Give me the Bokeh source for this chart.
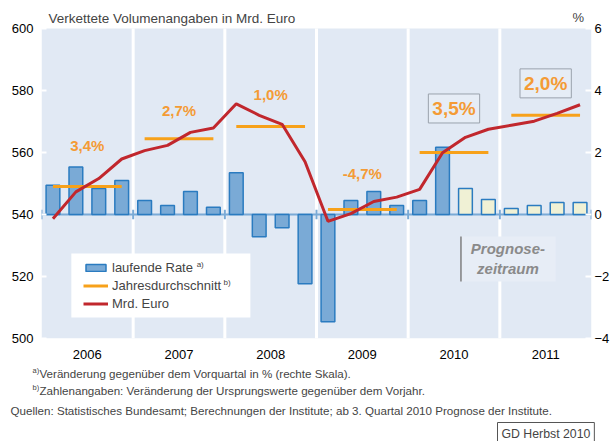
from bokeh.plotting import figure
from bokeh.layouts import column
from bokeh.models import (Range1d, LinearAxis, FixedTicker, BoxAnnotation,
                          Label, Legend, LegendItem, ColumnDataSource)
from bokeh.embed import file_html
from bokeh.resources import INLINE

# ---------------- data ----------------
years = ["2006", "2007", "2008", "2009", "2010", "2011"]
rate = [0.94, 1.53, 0.84, 1.10,
        0.45, 0.29, 0.74, 0.23,
        1.35, -0.72, -0.43, -2.23,
        -3.46, 0.45, 0.74, 0.29,
        0.45, 2.17, 0.84, 0.48,
        0.19, 0.29, 0.39, 0.39]
mrd = [538.6, 547.3, 551.6, 557.9,
       560.6, 562.3, 566.5, 567.9,
       575.7, 572.0, 569.1, 557.0,
       537.8, 540.3, 544.2, 545.6,
       548.1, 559.9, 564.9, 567.5,
       568.8, 570.1, 572.6, 575.4]
annual = [549.0, 564.4, 568.4, 541.6, 560.0, 572.0]
annual_labels = ["3,4%", "2,7%", "1,0%", "-4,7%", "3,5%", "2,0%"]
forecast_start = 18          # first forecast quarter: 2010 Q3
left_ticks = [500, 520, 540, 560, 580, 600]
right_ticks = [-4, -2, 0, 2, 4, 6]
title_text = "Verkettete Volumenangaben in Mrd. Euro"
unit_text = "%"
legend_labels = ["laufende Rate", "Jahresdurchschnitt", "Mrd. Euro"]
footnote_a = "Veränderung gegenüber dem Vorquartal in % (rechte Skala)."
footnote_b = "Zahlenangaben: Veränderung der Ursprungswerte gegenüber dem Vorjahr."
source_note = ("Quellen: Statistisches Bundesamt; Berechnungen der Institute; "
               "ab 3. Quartal 2010 Prognose der Institute.")
forecast_note = "Prognose-\nzeitraum"
credit = "GD Herbst 2010"

# ---------------- layout / style ----------------
QPY = 4
nq = len(rate)
W = 612
H_MAIN, H_FOOT = 365, 76
FONT = "Liberation Sans"
BG = "#e1e9f4"
BAR_FILL = "#7aaad6"
BAR_LINE = "#2a7bc0"
FC_FILL = "#f0f1d5"
RED = "#c1272d"
ORANGE = "#f7a11a"
LBL_ORANGE = "#f49b35"
# image-pixel helpers (plot area spans image x 41..594, y 28..338 for 600..500)
FX0, FX1, FY0, FY1 = 41.0, 594.0, 28.0, 338.0
def X(ix):
    return (ix - FX0) * nq / (FX1 - FX0)
def Y(iy):
    return 600 - (iy - FY0) * 100.0 / (FY1 - FY0)
Y_TOP = Y(0)                       # frame reaches the top of the page (title inside)
P_TOP = (Y_TOP - 540) / 10.0       # same extent on the % scale
label_offsets = [13.3, 9.1, 10.3, 11.6, 14.2, 10.3]   # label height above annual line
label_sizes = ["15px", "15px", "15px", "15px", "19px", "19px"]
label_boxed = [False, False, False, False, True, True]

p = figure(width=W, height=H_MAIN, output_backend="svg", toolbar_location=None,
           x_range=Range1d(0, nq), y_range=Range1d(500, Y_TOP),
           min_border_left=int(FX0), min_border_right=W - int(FX1), min_border_top=0,
           min_border_bottom=H_MAIN - int(FY1))
p.frame_align = False
p.extra_y_ranges = {"pct": Range1d(-4, P_TOP)}
p.background_fill_color = "white"
p.border_fill_color = "white"
p.outline_line_color = None
p.xgrid.visible = False
p.ygrid.visible = False

# plot-area background
p.add_layout(BoxAnnotation(left=0, right=nq, bottom=500, top=600, fill_color=BG,
                           fill_alpha=1, line_alpha=0, level="underlay"))

# left axis
ya = p.yaxis[0]
ya.ticker = FixedTicker(ticks=left_ticks)
ya.major_tick_in = 5
ya.major_tick_out = 0
ya.major_tick_line_color = "white"
ya.major_tick_line_width = 2
ya.minor_tick_line_color = None
ya.axis_line_color = None
ya.major_label_text_font = FONT
ya.major_label_text_font_size = "13px"
ya.major_label_text_color = "black"
ya.major_label_standoff = 8

# right axis (% scale)
ra = LinearAxis(y_range_name="pct", ticker=FixedTicker(ticks=right_ticks))
ra.major_tick_in = 6
ra.major_tick_out = 0
ra.major_tick_line_color = "white"
ra.major_tick_line_width = 2
ra.minor_tick_line_color = None
ra.axis_line_color = None
ra.major_label_text_font = FONT
ra.major_label_text_font_size = "13px"
ra.major_label_text_color = "black"
ra.major_label_standoff = 3
p.add_layout(ra, "right")

# bottom axis: year names at year centres
xa = p.xaxis[0]
centres = [QPY * i + QPY / 2 for i in range(len(years))]
xa.ticker = FixedTicker(ticks=centres)
xa.major_label_overrides = {c: y for c, y in zip(centres, years)}
xa.major_tick_line_color = None
xa.minor_tick_line_color = None
xa.axis_line_color = None
xa.major_label_text_font = FONT
xa.major_label_text_font_size = "13px"
xa.major_label_text_color = "black"
xa.major_label_standoff = 5

# year dividers
bx = [QPY * i for i in range(len(years) + 1)]
p.segment(x0=bx[1:-1], x1=bx[1:-1], y0=[500] * (len(bx) - 2), y1=[600] * (len(bx) - 2),
          line_color="white", line_width=3)
# zero line of % scale with small year ticks
p.segment(x0=[0], x1=[nq], y0=[0], y1=[0], y_range_name="pct",
          line_color=BAR_FILL, line_width=2)
p.segment(x0=bx, x1=bx, y0=[-0.15] * len(bx), y1=[0.15] * len(bx),
          y_range_name="pct", line_color=BAR_FILL, line_width=2)

# bars
xq = [i + 0.5 for i in range(nq)]
src_h = ColumnDataSource(dict(x=xq[:forecast_start], top=rate[:forecast_start]))
src_f = ColumnDataSource(dict(x=xq[forecast_start:], top=rate[forecast_start:]))
bars = p.vbar(x="x", top="top", bottom=0, width=0.6, source=src_h, y_range_name="pct",
              fill_color=BAR_FILL, line_color=BAR_LINE, line_width=1.5)
p.vbar(x="x", top="top", bottom=0, width=0.6, source=src_f, y_range_name="pct",
       fill_color=FC_FILL, line_color=BAR_LINE, line_width=1.5)

# annual averages
ax0 = [QPY * i + 0.5 for i in range(len(years))]
ax1 = [QPY * i + QPY - 0.5 for i in range(len(years))]
avg = p.segment(x0=ax0, x1=ax1, y0=annual, y1=annual, line_color=ORANGE, line_width=3)

# chained volume line
ln = p.line(xq, mrd, line_color=RED, line_width=3)

# annual growth labels
for i, txt in enumerate(annual_labels):
    kw = {}
    if label_boxed[i]:
        kw = dict(border_line_color="#9aa2ac", border_line_width=1,
                  background_fill_color="#e6edf6", padding=4)
    p.add_layout(Label(x=centres[i], y=annual[i] + label_offsets[i], text=txt,
                       text_font=FONT, text_font_style="bold",
                       text_font_size=label_sizes[i], text_color=LBL_ORANGE,
                       text_align="center", text_baseline="middle", **kw))

# forecast box
p.add_layout(BoxAnnotation(left=X(463), right=X(558), top=Y(236), bottom=Y(281),
                           fill_color="#e7edf6", fill_alpha=1, line_alpha=0))
p.add_layout(BoxAnnotation(left=X(462), right=X(463.5), top=Y(236), bottom=Y(281),
                           fill_color="#7f7f7f", fill_alpha=1, line_alpha=0))
p.add_layout(Label(x=X(510), y=Y(258), text=forecast_note, text_font=FONT,
                   text_font_style="bold italic", text_font_size="15px",
                   text_color="#8a8a8a", text_align="center", text_baseline="middle",
                   text_line_height=1.2))

# legend
p.add_layout(BoxAnnotation(left=X(71), right=X(251), top=Y(253), bottom=Y(317),
                           fill_color="white", fill_alpha=1, line_alpha=0))
legend = Legend(items=[LegendItem(label=legend_labels[0], renderers=[bars]),
                       LegendItem(label=legend_labels[1], renderers=[avg]),
                       LegendItem(label=legend_labels[2], renderers=[ln])],
                location=(42, 27), padding=0, margin=0, spacing=3,
                glyph_width=25, glyph_height=9, label_height=14, label_standoff=4,
                label_text_font=FONT, label_text_font_size="13px",
                border_line_alpha=0, background_fill_alpha=0)
p.add_layout(legend, "center")
for sx, sy, s in [(197, 263.5, "a)"), (224, 282, "b)")]:
    p.add_layout(Label(x=X(sx), y=Y(sy), text=s, text_font=FONT, text_font_size="8px",
                       text_baseline="middle", text_align="left"))

# title and unit (inside the frame, above the plot area)
p.add_layout(Label(x=X(48), y=Y(18), text=title_text, text_font=FONT,
                   text_font_size="13.5px", text_baseline="middle", text_align="left"))
p.add_layout(Label(x=X(575), y=Y(17), text=unit_text, text_font=FONT,
                   text_font_size="13px", text_baseline="middle", text_align="left"))

# ---------------- footnote strip ----------------
f = figure(width=W, height=H_FOOT, output_backend="svg", toolbar_location=None,
           x_range=Range1d(0, W), y_range=Range1d(H_MAIN + H_FOOT, H_MAIN),
           x_axis_location=None, y_axis_location=None,
           min_border_left=0, min_border_right=0, min_border_top=0, min_border_bottom=0)
f.frame_align = False
f.outline_line_color = None
f.xgrid.visible = False
f.ygrid.visible = False
f.background_fill_color = "white"
f.border_fill_color = "white"

def note(x, y, text, size, **kw):
    f.add_layout(Label(x=x, y=y, text=text, text_font=FONT, text_font_size=size,
                       text_baseline="middle", text_align="left", **kw))

note(32, 370, "a)", "7.5px")
note(39, 373, footnote_a, "11.6px")
note(32, 387, "b)", "7.5px")
note(39, 390, footnote_b, "11.6px")
note(10, 410, source_note, "11.6px")
note(497, 433, credit, "12.3px", border_line_color="#555555", border_line_width=1,
     background_fill_color="white", padding=4)

root = column(p, f, spacing=0)
open("out.html", "w").write(file_html(root, INLINE))
